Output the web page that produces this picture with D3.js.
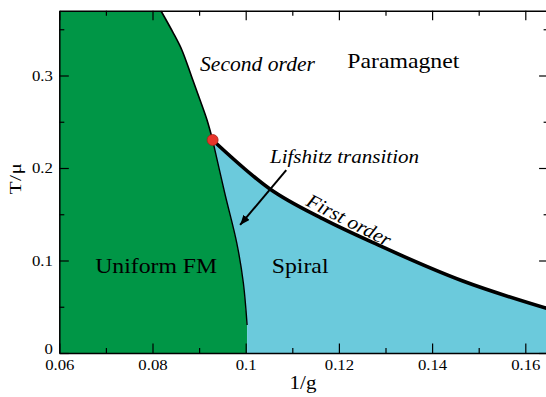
<!DOCTYPE html>
<html>
<head>
<meta charset="utf-8">
<script src="https://cdn.jsdelivr.net/npm/d3@7"></script>
<style>
  html, body { margin: 0; padding: 0; background: #fff; }
  svg { display: block; }
</style>
</head>
<body>
<div id="chart"></div>
<script>
// Phase boundaries in the (1/g, T/mu) plane
const secondOrderInvG = [0.0818, 0.0845, 0.0863, 0.0884, 0.0902, 0.0917, 0.0929];
const secondOrderT    = [0.370, 0.3456, 0.3276, 0.2987, 0.2735, 0.2519, 0.2303];

const lifshitzInvG = [0.0929, 0.0955, 0.0981, 0.0995, 0.1003];
const lifshitzT    = [0.2303, 0.1730, 0.1186, 0.0757, 0.0303];

const firstOrderInvG = [0.0929, 0.1052, 0.1166, 0.1284, 0.1466, 0.1650];
const firstOrderT    = [0.2303, 0.1773, 0.1449, 0.1168, 0.0778, 0.0476];

// Tricritical / Lifshitz point
const specialPoint = [0.0929, 0.2303];

// Axis ticks
const xTicks = [0.06, 0.08, 0.10, 0.12, 0.14, 0.16];
const xTickLabels = ["0.06", "0.08", "0.1", "0.12", "0.14", "0.16"];
const xMinorTicks = [0.07, 0.09, 0.11, 0.13, 0.15];
const yTicks = [0, 0.1, 0.2, 0.3];
const yTickLabels = ["0", "0.1", "0.2", "0.3"];
const yMinorTicks = [0.05, 0.15, 0.25, 0.35];

const W = 546, H = 397;
const GREEN = "#009646", BLUE = "#6bcadc";
const FONT = '"Liberation Serif", LiberationSerif, Tinos, "Times New Roman", Times, "Nimbus Roman", "DejaVu Serif", serif';
const SX = 1.08; // glyph width factor

const x = d3.scaleLinear().domain([0.06, 0.165]).range([59.3, 548.6]);
const y = d3.scaleLinear().domain([0, 0.37]).range([353, 10.75]);

const svg = d3.select("#chart").append("svg")
  .attr("width", W).attr("height", H)
  .attr("font-family", FONT).style("font-family", FONT);

svg.append("defs").append("clipPath").attr("id", "plot")
  .append("rect")
  .attr("x", x(0.06)).attr("y", y(0.37))
  .attr("width", x(0.165) - x(0.06)).attr("height", y(0) - y(0.37));

const zip = (a, b) => a.map((v, i) => [v, b[i]]);
const secondPts = zip(secondOrderInvG, secondOrderT);
const lifPts = zip(lifshitzInvG, lifshitzT);
const firstPts = zip(firstOrderInvG, firstOrderT);

const curve = d3.line().x(d => x(d[0])).y(d => y(d[1])).curve(d3.curveCatmullRom.alpha(0.5));
const smooth = d3.line().x(d => x(d[0])).y(d => y(d[1])).curve(d3.curveMonotoneX);
const cont = pts => curve(pts).replace(/^M/, "L");

const plot = svg.append("g").attr("clip-path", "url(#plot)");

// Uniform FM region
const lifEnd = lifPts[lifPts.length - 1];
plot.append("path")
  .attr("fill", GREEN)
  .attr("d", `M${x(0.06)},${y(0)}L${x(0.06)},${y(0.37)}` +
    cont(secondPts.concat(lifPts.slice(1))) +
    `L${x(lifEnd[0])},${y(0)}Z`);

// Spiral region
plot.append("path")
  .attr("fill", BLUE)
  .attr("d", smooth(firstPts) +
    `L${x(0.165)},${y(0)}L${x(lifEnd[0])},${y(0)}` +
    cont(lifPts.slice().reverse()) + "Z");

// Transition lines
plot.append("path").attr("d", curve(secondPts))
  .attr("fill", "none").attr("stroke", "#000").attr("stroke-width", 1.6);
plot.append("path").attr("d", curve(lifPts))
  .attr("fill", "none").attr("stroke", "#000").attr("stroke-width", 1.4);
plot.append("path").attr("d", smooth(firstPts))
  .attr("fill", "none").attr("stroke", "#000").attr("stroke-width", 3.6);

// Arrow pointing to the Lifshitz line
svg.select("defs").append("marker")
  .attr("id", "head").attr("viewBox", "0 0 10 8")
  .attr("refX", 10).attr("refY", 4)
  .attr("markerWidth", 10).attr("markerHeight", 8)
  .attr("markerUnits", "userSpaceOnUse").attr("orient", "auto")
  .append("path").attr("d", "M0,0L10,4L0,8Z").attr("fill", "#000");

svg.append("line")
  .attr("x1", x(0.1087)).attr("y1", y(0.1978))
  .attr("x2", x(0.0988)).attr("y2", y(0.1384))
  .attr("stroke", "#000").attr("stroke-width", 2)
  .attr("marker-end", "url(#head)");

// Special point
svg.append("circle")
  .attr("cx", x(specialPoint[0])).attr("cy", y(specialPoint[1]))
  .attr("r", 5.5).attr("fill", "#e8352b")
  .attr("stroke", "#a8231c").attr("stroke-width", 0.8);

// Axes (ticks point inward on all four sides)
function frame(axisFn, scale, major, labels, minor, translate, showLabels) {
  const g = svg.append("g").attr("transform", translate);
  const ax = axisFn(scale).tickValues(major).tickSize(-9.5).tickSizeOuter(0).tickPadding(6)
    .tickFormat((d, i) => showLabels ? labels[i] : "");
  g.call(ax);
  g.append("g").call(axisFn(scale).tickValues(minor).tickSize(-5).tickSizeOuter(0).tickFormat(""))
    .select(".domain").remove();
  g.attr("font-family", FONT).attr("font-size", 15.5);
  g.selectAll("line").attr("stroke", "#000").attr("stroke-width", 1.2);
  g.select(".domain").attr("stroke", "#000").attr("stroke-width", 1.5);
  g.selectAll("text")
    .style("font-family", FONT)
    .style("font-size", "15.5px").attr("fill", "#000")
    .attr("transform", `scale(${SX},1)`);
  return g;
}
frame(d3.axisBottom, x, xTicks, xTickLabels, xMinorTicks, `translate(0,${y(0)})`, true);
frame(d3.axisTop, x, xTicks, xTickLabels, xMinorTicks, `translate(0,${y(0.37)})`, false);
const leftAxis = frame(d3.axisLeft, y, yTicks, yTickLabels, yMinorTicks, `translate(${x(0.06)},0)`, true);
frame(d3.axisRight, y, yTicks, yTickLabels, yMinorTicks, `translate(${x(0.165)},0)`, false);
leftAxis.selectAll(".tick text").filter(d => d === 0).attr("dy", "0.0em");

// Labels
function label(text, xd, td, size, italic, rotate) {
  svg.append("text")
    .attr("transform", `translate(${x(xd)},${y(td)})` + (rotate ? ` rotate(${rotate})` : "") + ` scale(${SX},1)`)
    .style("font-family", FONT)
    .style("font-size", size + "px")
    .style("font-style", italic ? "italic" : "normal")
    .attr("fill", "#000")
    .text(text);
}
label("Second order", 0.0902, 0.3052, 20, true);
label("Paramagnet", 0.1218, 0.3078, 22, false);
label("Lifshitz transition", 0.1052, 0.2054, 19.5, true);
label("First order", 0.1127, 0.1600, 19.5, true, 27);
label("Uniform FM", 0.0677, 0.0868, 22, false);
label("Spiral", 0.1056, 0.0868, 22, false);

// Axis titles
svg.append("text")
  .attr("transform", `translate(${(x(0.06) + x(0.165)) / 2 - 1},389) scale(${SX},1)`)
  .attr("text-anchor", "middle").style("font-family", FONT).style("font-size", "19.5px").text("1/g");
svg.append("text")
  .attr("transform", `translate(21,${y(0.1886)}) rotate(-90) scale(1.25,1)`)
  .attr("text-anchor", "middle").style("font-family", FONT).style("font-size", "17px")
  .style("letter-spacing", "0.5px").text("T/μ");
</script>
</body>
</html>
